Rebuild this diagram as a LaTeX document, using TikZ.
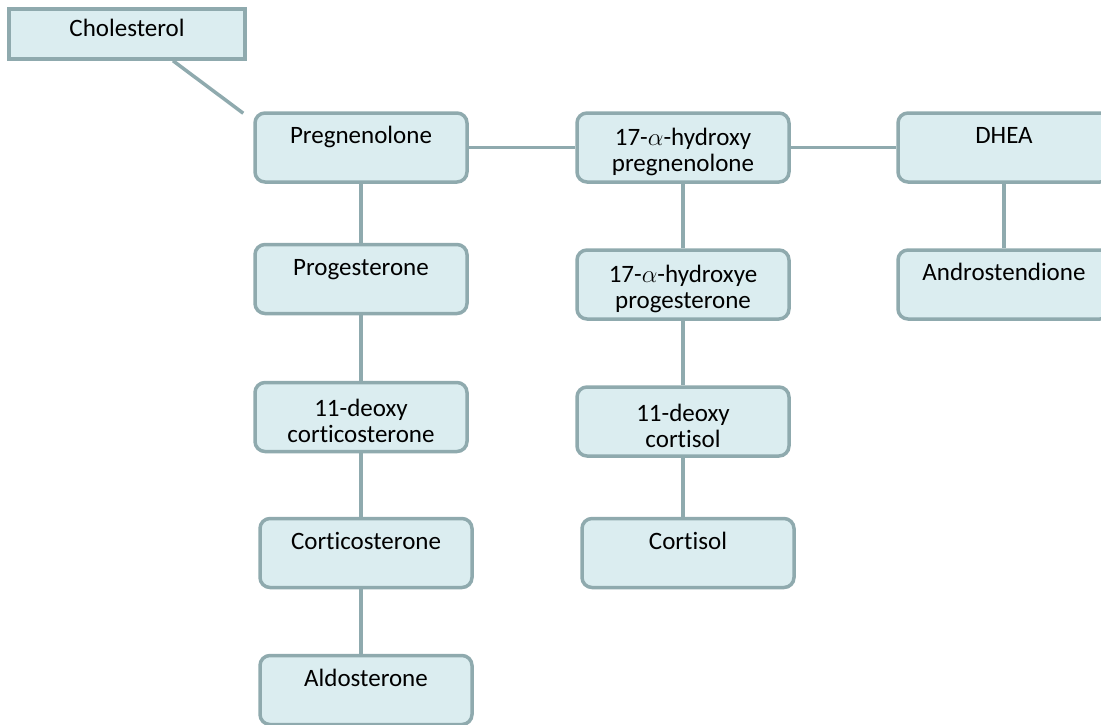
\documentclass[tikz,border=0pt]{standalone}
\usepackage{fontspec}
\setmainfont[Ligatures=NoCommon]{Carlito}
\usetikzlibrary{positioning, calc}

\definecolor{boxfill}{RGB}{219,237,240}
\definecolor{boxline}{RGB}{143,170,174}

\tikzset{
  panel/.style={draw=boxline, fill=boxfill, line width=3.5pt,
    align=center, inner sep=0pt, font=\fontsize{25}{26}\selectfont},
  hormone/.style={panel, rounded corners=10pt, minimum width=212pt,
    minimum height=69pt, execute at begin node={\rule{0pt}{52pt}}},
  source/.style={panel, minimum width=236pt, minimum height=50pt,
    execute at begin node={\rule[-13pt]{0pt}{1pt}}},
  link/.style={draw=boxline, line width=3.5pt}
}

\begin{document}
\begin{tikzpicture}[x=1pt, y=-1pt]
  \path[use as bounding box, clip] (0,0) rectangle (1101,725);

  \node[source] (chol) at (127,34) {Cholesterol};

  % first row
  \node[hormone] (preg) at (361,147.5) {Pregnenolone\\\strut};
  \node[hormone] (hpreg) at (683,147.5) {17-$\alpha$-hydroxy\\pregnenolone};
  \node[hormone] (dhea) at (1004,147.5) {DHEA\\\strut};

  % left column
  \node[hormone] (prog) at (361,279) {Progesterone\\\strut};
  \node[hormone] (doc) at (361,417) {11-deoxy\\corticosterone};
  \node[hormone] (cortico) at (366,553) {Corticosterone\\\strut};
  \node[hormone] (aldo) at (366,690) {Aldosterone\\\strut};

  % middle column
  \node[hormone] (hprog) at (683,284.5) {17-$\alpha$-hydroxye\\progesterone};
  \node[hormone] (dcort) at (683,421.5) {11-deoxy\\cortisol};
  \node[hormone] (cortisol) at (688,553) {Cortisol\\\strut};

  % right column
  \node[hormone] (andro) at (1004,284.5) {Androstendione\\\strut};

  \draw[link] ([xshift=46pt]chol.south) -- ([shift={(-10pt,-2pt)}]preg.north west);
  \draw[link] (preg) -- (hpreg);
  \draw[link] (hpreg) -- (dhea);
  \draw[link] (preg) -- (prog);
  \draw[link] (prog) -- (doc);
  \draw[link] (doc.south) -- (doc.south |- cortico.north);
  \draw[link] (doc.south |- cortico.south) -- (doc.south |- aldo.north);
  \draw[link] (hpreg) -- (hprog);
  \draw[link] (hprog) -- (dcort);
  \draw[link] (dcort.south) -- (dcort.south |- cortisol.north);
  \draw[link] (dhea) -- (andro);
\end{tikzpicture}
\end{document}
